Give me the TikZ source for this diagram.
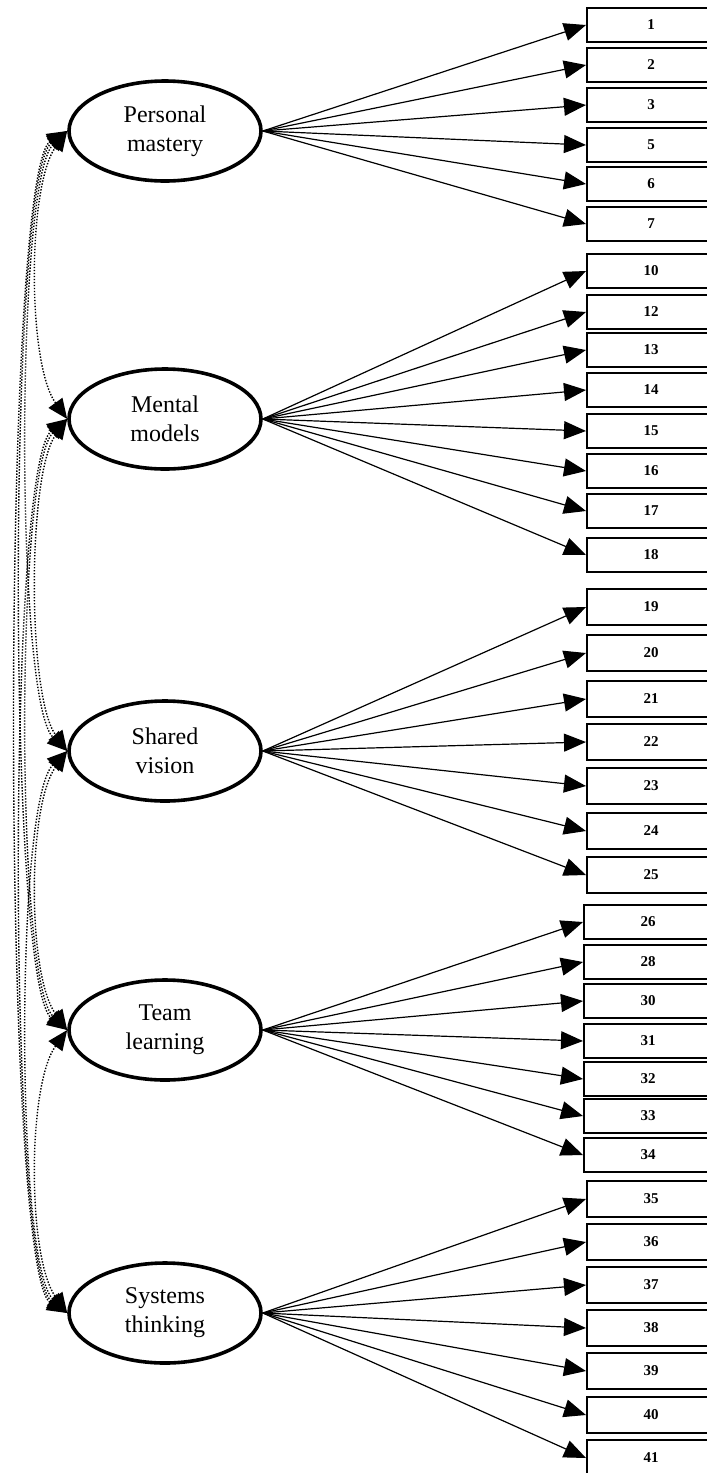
\documentclass[tikz,border=0pt]{standalone}
\usepackage{fontspec}
\setmainfont{Liberation Serif}
\usetikzlibrary{
    arrows.meta,
    shapes.geometric
}

\begin{document}
\begin{tikzpicture}[
    x=0.5pt, y=-0.5pt,
    factor/.style={
        ellipse,
        draw=black,
        line width=1.8pt,
        align=center,
        minimum width=96pt,
        minimum height=50pt,
        inner sep=0pt,
        font=\fontsize{12}{14.5}\selectfont
    },
    item/.style={
        rectangle,
        draw=black,
        line width=1pt,
        anchor=west,
        minimum width=64pt,
        minimum height=17pt,
        font=\fontsize{7.5}{9}\selectfont\bfseries
    },
    load/.style={
        -{Triangle[length=11pt,width=9pt]},
        line width=0.6pt
    },
    cov/.style={
        {Triangle[length=10pt,width=8.5pt]}-{Triangle[length=10pt,width=8.5pt]},
        dash pattern=on 0.7pt off 0.8pt,
        line width=0.7pt
    }
]
\useasboundingbox (0,0) rectangle (707,1473);

% =========================================================
% Latent factors
% =========================================================
\node[factor] (pm) at (165,131) {Personal\\mastery};
\node[factor] (mm) at (165,419) {Mental\\models};
\node[factor] (sv) at (165,751) {Shared\\vision};
\node[factor] (tl) at (165,1030) {Team\\learning};
\node[factor] (st) at (165,1313) {Systems\\thinking};

% =========================================================
% Personal mastery items
% =========================================================
\node[item] (q1) at (586,25) {1};
\node[item] (q2) at (586,65) {2};
\node[item] (q3) at (586,105) {3};
\node[item] (q5) at (586,145) {5};
\node[item] (q6) at (586,184) {6};
\node[item] (q7) at (586,224) {7};

% =========================================================
% Mental models items
% =========================================================
\node[item] (q10) at (586,271) {10};
\node[item] (q12) at (586,312) {12};
\node[item] (q13) at (586,350) {13};
\node[item] (q14) at (586,390) {14};
\node[item] (q15) at (586,431) {15};
\node[item] (q16) at (586,471) {16};
\node[item] (q17) at (586,511) {17};
\node[item] (q18) at (586,555) {18};

% =========================================================
% Shared vision items
% =========================================================
\node[item, minimum height=18pt] (q19) at (586,607) {19};
\node[item, minimum height=18pt] (q20) at (586,653) {20};
\node[item, minimum height=18pt] (q21) at (586,699) {21};
\node[item, minimum height=18pt] (q22) at (586,742) {22};
\node[item, minimum height=18pt] (q23) at (586,786) {23};
\node[item, minimum height=18pt] (q24) at (586,831) {24};
\node[item, minimum height=18pt] (q25) at (586,875) {25};

% =========================================================
% Team learning items
% =========================================================
\node[item] (q26) at (583,922) {26};
\node[item] (q28) at (583,962) {28};
\node[item] (q30) at (583,1001) {30};
\node[item] (q31) at (583,1041) {31};
\node[item] (q32) at (583,1079) {32};
\node[item] (q33) at (583,1116) {33};
\node[item] (q34) at (583,1155) {34};

% =========================================================
% Systems thinking items
% =========================================================
\node[item, minimum height=18pt] (q35) at (586,1199) {35};
\node[item, minimum height=18pt] (q36) at (586,1242) {36};
\node[item, minimum height=18pt] (q37) at (586,1285) {37};
\node[item, minimum height=18pt] (q38) at (586,1328) {38};
\node[item, minimum height=18pt] (q39) at (586,1371) {39};
\node[item, minimum height=18pt] (q40) at (586,1415) {40};
\node[item, minimum height=18pt] (q41) at (586,1458) {41};

% =========================================================
% Loadings
% =========================================================
\draw[load] (pm.east) -- (q1.west);
\draw[load] (pm.east) -- (q2.west);
\draw[load] (pm.east) -- (q3.west);
\draw[load] (pm.east) -- (q5.west);
\draw[load] (pm.east) -- (q6.west);
\draw[load] (pm.east) -- (q7.west);

\draw[load] (mm.east) -- (q10.west);
\draw[load] (mm.east) -- (q12.west);
\draw[load] (mm.east) -- (q13.west);
\draw[load] (mm.east) -- (q14.west);
\draw[load] (mm.east) -- (q15.west);
\draw[load] (mm.east) -- (q16.west);
\draw[load] (mm.east) -- (q17.west);
\draw[load] (mm.east) -- (q18.west);

\draw[load] (sv.east) -- (q19.west);
\draw[load] (sv.east) -- (q20.west);
\draw[load] (sv.east) -- (q21.west);
\draw[load] (sv.east) -- (q22.west);
\draw[load] (sv.east) -- (q23.west);
\draw[load] (sv.east) -- (q24.west);
\draw[load] (sv.east) -- (q25.west);

\draw[load] (tl.east) -- (q26.west);
\draw[load] (tl.east) -- (q28.west);
\draw[load] (tl.east) -- (q30.west);
\draw[load] (tl.east) -- (q31.west);
\draw[load] (tl.east) -- (q32.west);
\draw[load] (tl.east) -- (q33.west);
\draw[load] (tl.east) -- (q34.west);

\draw[load] (st.east) -- (q35.west);
\draw[load] (st.east) -- (q36.west);
\draw[load] (st.east) -- (q37.west);
\draw[load] (st.east) -- (q38.west);
\draw[load] (st.east) -- (q39.west);
\draw[load] (st.east) -- (q40.west);
\draw[load] (st.east) -- (q41.west);

% =========================================================
% Factor covariances
% =========================================================
\draw[cov] (pm.west) .. controls +(-40,55) and +(-40,-55) .. (mm.west);
\draw[cov] (pm.west) .. controls +(-52,50) and +(-52,-50) .. (sv.west);
\draw[cov] (pm.west) .. controls +(-60,45) and +(-60,-45) .. (tl.west);
\draw[cov] (pm.west) .. controls +(-66,40) and +(-66,-40) .. (st.west);

\draw[cov] (mm.west) .. controls +(-40,55) and +(-40,-55) .. (sv.west);
\draw[cov] (mm.west) .. controls +(-52,50) and +(-52,-50) .. (tl.west);
\draw[cov] (mm.west) .. controls +(-60,45) and +(-60,-45) .. (st.west);

\draw[cov] (sv.west) .. controls +(-40,55) and +(-40,-55) .. (tl.west);
\draw[cov] (sv.west) .. controls +(-52,50) and +(-52,-50) .. (st.west);

\draw[cov] (tl.west) .. controls +(-40,55) and +(-40,-55) .. (st.west);

\end{tikzpicture}
\end{document}
